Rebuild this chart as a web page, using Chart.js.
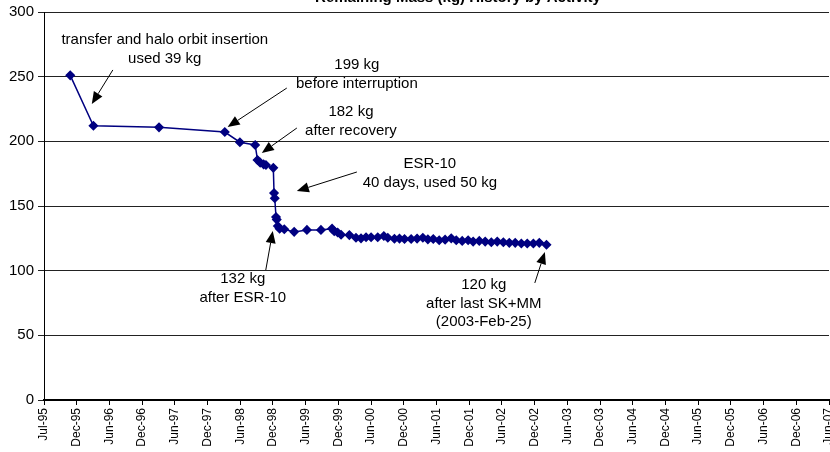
<!DOCTYPE html>
<html>
<head>
<meta charset="utf-8">
<script src="https://cdn.jsdelivr.net/npm/chart.js@4/dist/chart.umd.min.js"></script>
<style>
  html, body { margin: 0; padding: 0; background: #fff; overflow: hidden; }
  #wrap { width: 830px; height: 452px; position: relative; }
  canvas { display: block; }
</style>
</head>
<body>
<div id="wrap"><canvas id="chart-mass"></canvas></div>
<script>
// remaining mass (kg), one entry per manoeuvre
const burnDates = [
    '1995-11-24', '1996-04-01', '1997-04-01', '1998-04-02', '1998-06-25',
    '1998-09-18', '1998-10-01', '1998-10-16', '1998-11-04', '1998-11-17',
    '1998-12-28', '1999-01-01', '1999-01-05', '1999-01-12', '1999-01-16',
    '1999-01-22', '1999-02-01', '1999-02-27', '1999-04-23', '1999-07-03',
    '1999-09-19', '1999-11-20', '1999-12-02', '1999-12-21', '2000-01-09',
    '2000-02-24', '2000-04-01', '2000-04-29', '2000-05-27', '2000-06-24',
    '2000-07-31', '2000-09-03', '2000-09-25', '2000-11-01', '2000-11-29',
    '2000-12-27', '2001-02-02', '2001-03-07', '2001-04-08', '2001-05-06',
    '2001-06-05', '2001-07-08', '2001-08-10', '2001-09-13', '2001-10-11',
    '2001-11-13', '2001-12-16', '2002-01-13', '2002-02-16', '2002-03-21',
    '2002-04-24', '2002-05-27', '2002-06-30', '2002-08-02', '2002-09-04',
    '2002-10-08', '2002-11-10', '2002-12-14', '2003-01-16', '2003-02-25'
];
const massKg = [
    251, 212, 210.8, 207.2, 199.3,
    197.2, 185.6, 183.5, 182.2, 181.7,
    179.5, 160, 156, 141.5, 139.5,
    134.5, 132.5, 132, 130, 131.5,
    131.5, 132.5, 130.5, 129.5, 127.8,
    127.5, 125.5, 125, 125.8, 125.8,
    125.8, 126.8, 125.5, 124.7, 124.8,
    124.5, 124.5, 124.8, 125.5, 124.2,
    124.5, 123.5, 124, 125, 123.5,
    123, 123.5, 122.5, 123, 122.5,
    122, 122.5, 122, 121.5, 121.5,
    121, 121, 121, 121.5, 120
];

// axis: days counted from 1 Jul 1995, a tick every 182 days
const axisStart = Date.UTC(1995, 6, 1);
const axisDays = 4368;
const tickDays = 182;
const monthNames = ['Jan', 'Feb', 'Mar', 'Apr', 'May', 'Jun', 'Jul', 'Aug', 'Sep', 'Oct', 'Nov', 'Dec'];

const titleText = 'Remaining Mass (kg) History by Activity';

// callouts: text lines, text centre (day, kg), arrow from -> to (day, kg)
const notes = [
    { lines: ['transfer and halo orbit insertion', 'used 39 kg'], at: [672, 278.4], from: [383, 255.2], to: [266, 228.9] },
    { lines: ['199 kg', 'before interruption'], at: [1741, 259.0], from: [1351, 241.2], to: [1022, 211.1] },
    { lines: ['182 kg', 'after recovery'], at: [1708, 222.7], from: [1407, 210.3], to: [1212, 191.0] },
    { lines: ['ESR-10', '40 days, used 50 kg'], at: [2147, 182.5], from: [1741, 176.3], to: [1407, 161.6] },
    { lines: ['132 kg', 'after ESR-10'], at: [1106, 93.6], from: [1234, 100.5], to: [1273, 130.7] },
    { lines: ['120 kg', 'after last SK+MM', '(2003-Feb-25)'], at: [2447, 88.9], from: [2731, 90.5], to: [2787, 114.4] }
];

function toDay(iso) {
    const p = iso.split('-');
    return Math.round((Date.UTC(+p[0], +p[1] - 1, +p[2]) - axisStart) / 86400000);
}

function dayLabel(d) {
    const t = new Date(axisStart + d * 86400000);
    return monthNames[t.getUTCMonth()] + '-' + String(t.getUTCFullYear()).slice(2);
}

const points = burnDates.map(function (d, i) {
    return { x: toDay(d), y: massKg[i] };
});

const FONT = "'Liberation Sans', Arial, sans-serif";

function noPadding() {
    return { left: 0, top: 0, right: 0, bottom: 0 };
}

const calloutPlugin = {
    id: 'callouts',
    afterDraw: function (chart) {
        const c = chart.ctx;
        const xs = chart.scales.x;
        const ys = chart.scales.y;
        c.save();

        // title, mostly outside the top of the picture
        c.fillStyle = '#000';
        c.font = 'bold 15px ' + FONT;
        c.textAlign = 'center';
        c.textBaseline = 'alphabetic';
        c.fillText(titleText, 458, 2);

        c.font = '15px ' + FONT;
        c.textBaseline = 'middle';
        notes.forEach(function (n) {
            const cx = xs.getPixelForValue(n.at[0]);
            const cy = ys.getPixelForValue(n.at[1]);
            n.lines.forEach(function (txt, i) {
                c.fillText(txt, cx, cy + i * 18.5);
            });

            const x1 = xs.getPixelForValue(n.from[0]);
            const y1 = ys.getPixelForValue(n.from[1]);
            const x2 = xs.getPixelForValue(n.to[0]);
            const y2 = ys.getPixelForValue(n.to[1]);
            const ang = Math.atan2(y2 - y1, x2 - x1);
            const headLen = 12;
            const headW = 5;
            const bx = x2 - headLen * Math.cos(ang);
            const by = y2 - headLen * Math.sin(ang);

            c.strokeStyle = '#000';
            c.lineWidth = 1;
            c.beginPath();
            c.moveTo(x1, y1);
            c.lineTo(bx, by);
            c.stroke();

            c.beginPath();
            c.moveTo(x2, y2);
            c.lineTo(bx + headW * Math.sin(ang), by - headW * Math.cos(ang));
            c.lineTo(bx - headW * Math.sin(ang), by + headW * Math.cos(ang));
            c.closePath();
            c.fill();
        });
        c.restore();
    }
};

const ctx = document.getElementById('chart-mass');

new Chart(ctx, {
    type: 'line',
    data: {
        datasets: [{
            data: points,
            borderColor: '#000080',
            backgroundColor: '#000080',
            borderWidth: 1.5,
            pointStyle: 'rectRot',
            pointRadius: 4,
            pointHoverRadius: 4,
            tension: 0
        }]
    },
    options: {
        responsive: true,
        maintainAspectRatio: false,
        animation: false,
        events: [],
        layout: {
            autoPadding: false,
            padding: { top: 12, right: 1, bottom: 0, left: 0 }
        },
        plugins: {
            legend: { display: false },
            tooltip: { enabled: false },
            title: { display: false }
        },
        scales: {
            x: {
                type: 'linear',
                min: 0,
                max: axisDays,
                afterFit: function (scale) {
                    scale.height = 52;
                    scale.paddingLeft = 0;
                    scale.paddingRight = 0;
                    scale.getPadding = noPadding;
                },
                ticks: {
                    stepSize: tickDays,
                    autoSkip: false,
                    minRotation: 90,
                    maxRotation: 90,
                    padding: 3,
                    color: '#000',
                    font: { family: FONT, size: 12 },
                    callback: function (v) { return dayLabel(v); }
                },
                grid: {
                    drawOnChartArea: false,
                    drawTicks: true,
                    tickLength: 5,
                    color: '#000'
                },
                border: { display: true, color: '#000', width: 2 }
            },
            y: {
                min: 0,
                max: 300,
                afterFit: function (scale) {
                    scale.width = 44;
                    scale.paddingTop = 0;
                    scale.paddingBottom = 0;
                    scale.getPadding = noPadding;
                },
                ticks: {
                    stepSize: 50,
                    padding: 4,
                    color: '#000',
                    font: { family: FONT, size: 15 }
                },
                grid: {
                    color: '#222',
                    lineWidth: 1,
                    tickLength: 6
                },
                border: { display: true, color: '#000', width: 1 }
            }
        }
    },
    plugins: [calloutPlugin]
});
</script>
</body>
</html>
